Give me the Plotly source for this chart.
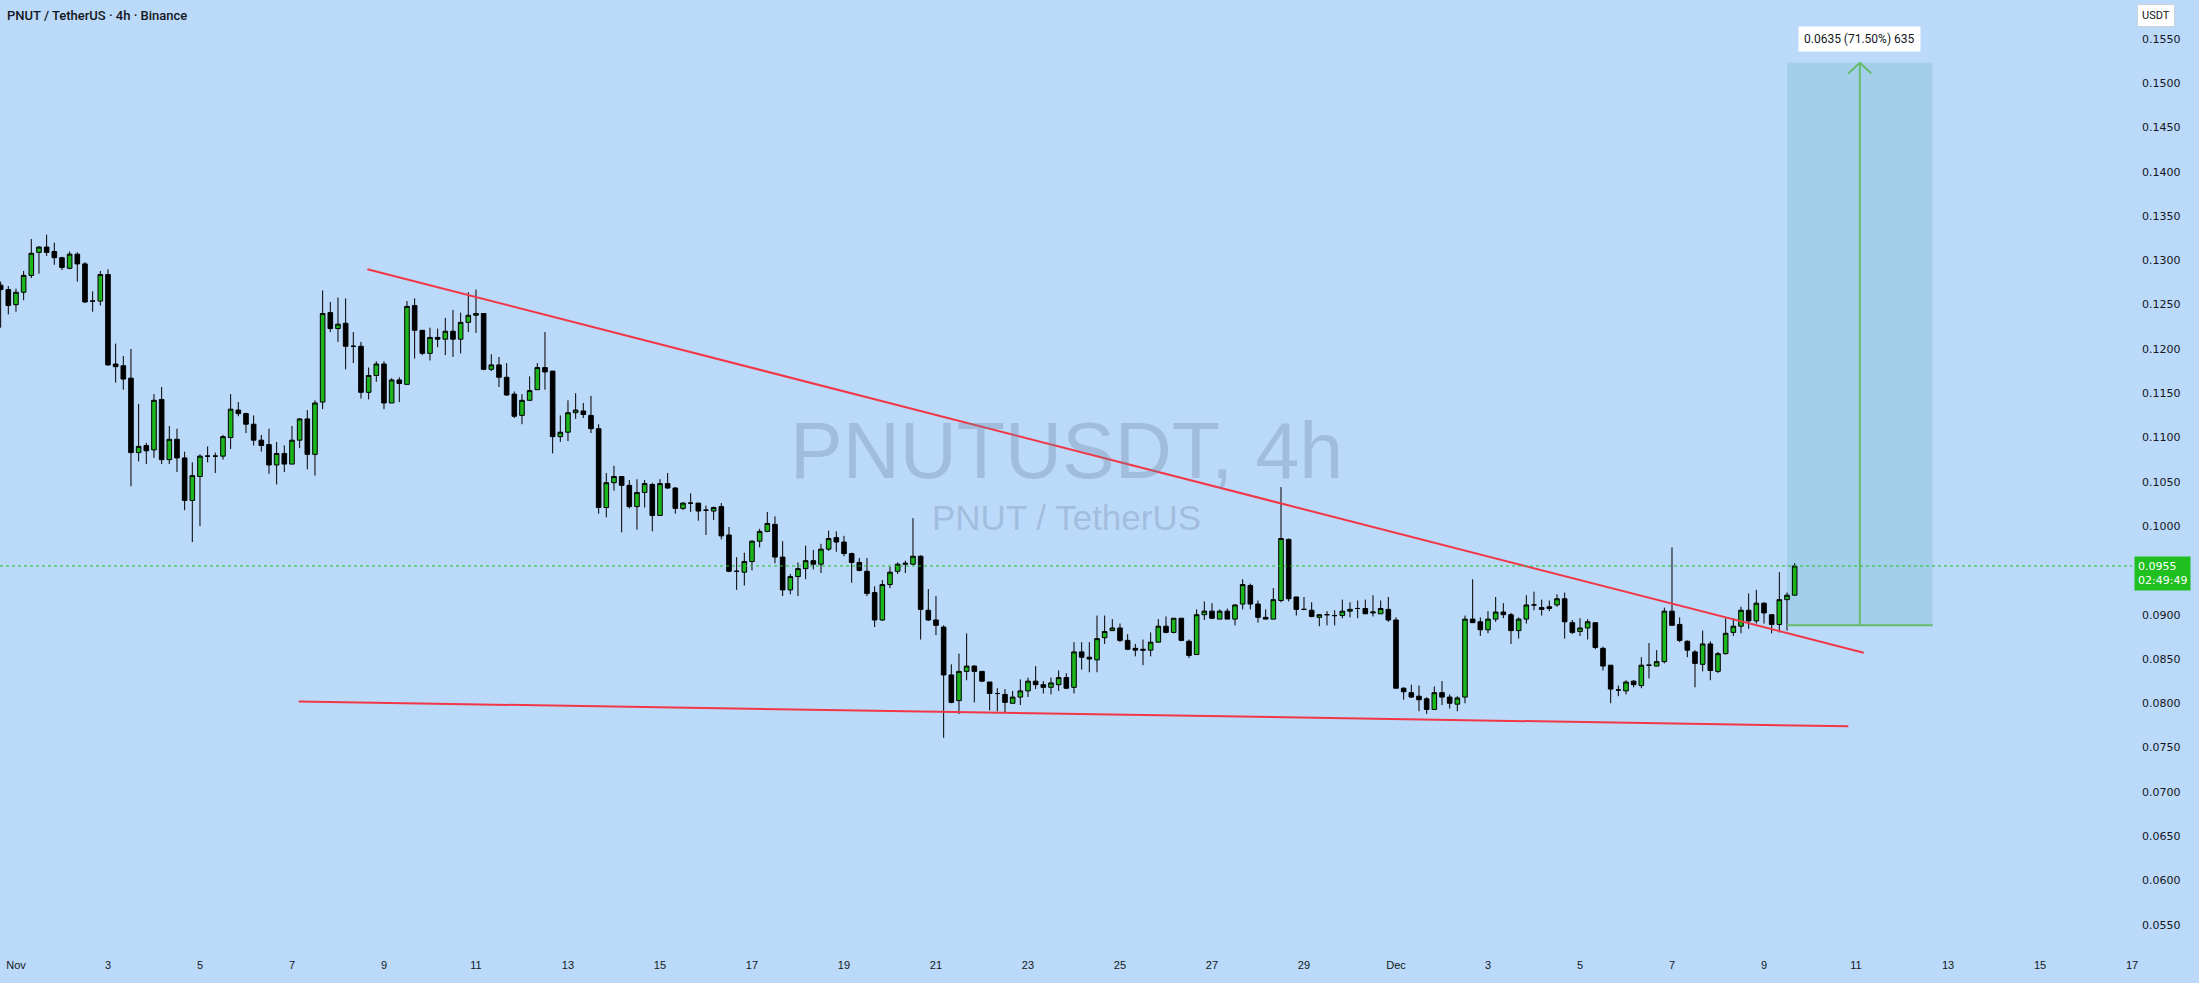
import pandas as pd
import plotly.graph_objects as go

# ---------------- data (4h candles, first candle Oct 31 16:00) ----------------
start_time = "2024-10-31 16:00"

open_ = [0.1272,0.1267,0.1250,0.1264,0.1283,0.1309,0.1315,0.1310,0.1303,0.1291,
 0.1307,0.1296,0.1254,0.1254,0.1284,0.1183,0.1181,0.1167,0.1083,0.1091,
 0.1086,0.1143,0.1075,0.1098,0.1077,0.1029,0.1056,0.1079,0.1079,0.1079,
 0.1100,0.1131,0.1127,0.1115,0.1097,0.1092,0.1069,0.1082,0.1070,0.1097,
 0.1121,0.1081,0.1140,0.1241,0.1223,0.1229,0.1203,0.1203,0.1151,0.1170,
 0.1183,0.1139,0.1165,0.1160,0.1249,0.1221,0.1195,0.1213,0.1211,0.1220,
 0.1211,0.1230,0.1238,0.1240,0.1177,0.1182,0.1168,0.1149,0.1125,0.1142,
 0.1154,0.1179,0.1175,0.1101,0.1106,0.1128,0.1130,0.1125,0.1110,0.1021,
 0.1049,0.1056,0.1046,0.1022,0.1038,0.1047,0.1012,0.1048,0.1043,0.1020,
 0.1026,0.1026,0.1018,0.1017,0.1022,0.0990,0.0949,0.0948,0.0960,0.0983,
 0.0994,0.1002,0.0965,0.0928,0.0943,0.0952,0.0961,0.0957,0.0974,0.0987,
 0.0982,0.0969,0.0959,0.0949,0.0925,0.0894,0.0934,0.0949,0.0957,0.0957,
 0.0966,0.0905,0.0894,0.0886,0.0832,0.0803,0.0836,0.0842,0.0836,0.0824,
 0.0811,0.0810,0.0800,0.0807,0.0814,0.0825,0.0821,0.0818,0.0821,0.0829,
 0.0818,0.0858,0.0852,0.0849,0.0874,0.0882,0.0885,0.0871,0.0862,0.0861,
 0.0860,0.0869,0.0887,0.0880,0.0896,0.0870,0.0855,0.0900,0.0904,0.0895,
 0.0904,0.0895,0.0912,0.0933,0.0912,0.0897,0.0895,0.0916,0.0985,0.0920,
 0.0906,0.0905,0.0897,0.0900,0.0899,0.0899,0.0904,0.0907,0.0907,0.0902,
 0.0901,0.0906,0.0894,0.0817,0.0812,0.0808,0.0805,0.0793,0.0812,0.0807,
 0.0799,0.0807,0.0895,0.0892,0.0883,0.0895,0.0903,0.0900,0.0882,0.0895,
 0.0911,0.0908,0.0907,0.0911,0.0918,0.0891,0.0881,0.0885,0.0891,0.0862,
 0.0843,0.0815,0.0814,0.0825,0.0820,0.0843,0.0842,0.0847,0.0904,0.0889,
 0.0870,0.0858,0.0844,0.0867,0.0836,0.0856,0.0880,0.0887,0.0905,0.0893,
 0.0913,0.0900,0.0889,0.0917,0.0922]

high = [0.1276,0.1271,0.1268,0.1288,0.1324,0.1316,0.1329,0.1320,0.1304,0.1310,
 0.1309,0.1298,0.1265,0.1288,0.1290,0.1206,0.1192,0.1200,0.1138,0.1094,
 0.1149,0.1157,0.1113,0.1110,0.1084,0.1072,0.1081,0.1090,0.1083,0.1103,
 0.1149,0.1140,0.1128,0.1125,0.1103,0.1110,0.1095,0.1091,0.1113,0.1122,
 0.1131,0.1142,0.1266,0.1253,0.1258,0.1257,0.1219,0.1208,0.1179,0.1186,
 0.1186,0.1167,0.1168,0.1254,0.1257,0.1221,0.1224,0.1223,0.1235,0.1244,
 0.1241,0.1264,0.1267,0.1240,0.1194,0.1191,0.1184,0.1152,0.1149,0.1169,
 0.1184,0.1219,0.1175,0.1125,0.1142,0.1150,0.1139,0.1147,0.1115,0.1060,
 0.1068,0.1056,0.1052,0.1053,0.1052,0.1049,0.1053,0.1060,0.1044,0.1027,
 0.1037,0.1026,0.1023,0.1022,0.1026,0.0999,0.0965,0.0970,0.0984,0.0997,
 0.1016,0.1011,0.0983,0.0946,0.0959,0.0978,0.0973,0.0980,0.0995,0.0994,
 0.0989,0.0970,0.0964,0.0964,0.0932,0.0939,0.0954,0.0959,0.0961,0.1009,
 0.0967,0.0929,0.0921,0.0888,0.0844,0.0856,0.0879,0.0843,0.0836,0.0824,
 0.0817,0.0816,0.0814,0.0827,0.0829,0.0842,0.0825,0.0829,0.0837,0.0834,
 0.0869,0.0869,0.0869,0.0899,0.0899,0.0895,0.0890,0.0878,0.0867,0.0872,
 0.0880,0.0895,0.0898,0.0896,0.0896,0.0872,0.0906,0.0915,0.0913,0.0906,
 0.0907,0.0912,0.0940,0.0935,0.0916,0.0906,0.0930,0.1044,0.0986,0.0920,
 0.0920,0.0914,0.0900,0.0904,0.0905,0.0917,0.0914,0.0916,0.0917,0.0922,
 0.0916,0.0920,0.0897,0.0818,0.0821,0.0820,0.0807,0.0819,0.0825,0.0810,
 0.0808,0.0899,0.0940,0.0897,0.0904,0.0920,0.0913,0.0902,0.0897,0.0922,
 0.0926,0.0917,0.0916,0.0923,0.0925,0.0894,0.0896,0.0895,0.0891,0.0864,
 0.0843,0.0820,0.0826,0.0826,0.0852,0.0868,0.0860,0.0908,0.0976,0.0897,
 0.0871,0.0860,0.0882,0.0870,0.0858,0.0896,0.0896,0.0909,0.0924,0.0928,
 0.0914,0.0900,0.0948,0.0925,0.0958]

low = [0.1224,0.1239,0.1242,0.1255,0.1280,0.1285,0.1305,0.1295,0.1289,0.1290,
 0.1276,0.1252,0.1242,0.1249,0.1181,0.1162,0.1154,0.1045,0.1073,0.1070,
 0.1077,0.1070,0.1070,0.1061,0.1018,0.0982,0.1000,0.1072,0.1060,0.1075,
 0.1087,0.1124,0.1105,0.1091,0.1084,0.1059,0.1047,0.1061,0.1070,0.1088,
 0.1064,0.1057,0.1132,0.1219,0.1208,0.1177,0.1184,0.1144,0.1143,0.1163,
 0.1132,0.1139,0.1140,0.1160,0.1189,0.1193,0.1187,0.1202,0.1193,0.1191,
 0.1195,0.1219,0.1218,0.1176,0.1175,0.1157,0.1147,0.1122,0.1115,0.1142,
 0.1154,0.1154,0.1082,0.1095,0.1096,0.1121,0.1122,0.1105,0.1014,0.1010,
 0.1040,0.0993,0.1020,0.0996,0.1021,0.0994,0.1012,0.1042,0.1014,0.1018,
 0.1016,0.1006,0.0990,0.1007,0.0985,0.0948,0.0928,0.0933,0.0950,0.0976,
 0.0993,0.0958,0.0921,0.0923,0.0921,0.0940,0.0951,0.0947,0.0972,0.0971,
 0.0966,0.0936,0.0949,0.0921,0.0886,0.0893,0.0930,0.0946,0.0947,0.0956,
 0.0872,0.0893,0.0877,0.0761,0.0800,0.0788,0.0826,0.0801,0.0824,0.0792,
 0.0791,0.0789,0.0800,0.0798,0.0807,0.0816,0.0811,0.0810,0.0814,0.0816,
 0.0811,0.0838,0.0835,0.0835,0.0867,0.0882,0.0869,0.0860,0.0853,0.0843,
 0.0853,0.0869,0.0879,0.0879,0.0870,0.0851,0.0855,0.0894,0.0895,0.0895,
 0.0895,0.0888,0.0906,0.0906,0.0891,0.0895,0.0895,0.0914,0.0915,0.0899,
 0.0905,0.0897,0.0887,0.0888,0.0888,0.0896,0.0897,0.0896,0.0901,0.0898,
 0.0901,0.0892,0.0817,0.0804,0.0806,0.0791,0.0788,0.0793,0.0798,0.0794,
 0.0791,0.0800,0.0891,0.0876,0.0879,0.0892,0.0896,0.0867,0.0873,0.0890,
 0.0905,0.0899,0.0904,0.0909,0.0873,0.0878,0.0876,0.0872,0.0861,0.0837,
 0.0800,0.0808,0.0810,0.0818,0.0817,0.0828,0.0842,0.0845,0.0888,0.0869,
 0.0852,0.0818,0.0836,0.0826,0.0834,0.0855,0.0876,0.0879,0.0884,0.0890,
 0.0890,0.0879,0.0880,0.0882,0.0922]

close = [0.1267,0.1249,0.1264,0.1283,0.1308,0.1315,0.1309,0.1303,0.1292,0.1307,
 0.1296,0.1253,0.1254,0.1284,0.1182,0.1180,0.1166,0.1083,0.1090,0.1085,
 0.1142,0.1075,0.1098,0.1077,0.1029,0.1057,0.1079,0.1079,0.1079,0.1101,
 0.1132,0.1127,0.1115,0.1097,0.1091,0.1069,0.1082,0.1070,0.1097,0.1121,
 0.1081,0.1139,0.1240,0.1223,0.1228,0.1203,0.1203,0.1151,0.1170,0.1183,
 0.1139,0.1165,0.1161,0.1248,0.1221,0.1195,0.1213,0.1211,0.1220,0.1211,
 0.1230,0.1238,0.1240,0.1177,0.1182,0.1168,0.1148,0.1124,0.1142,0.1153,
 0.1179,0.1174,0.1101,0.1106,0.1128,0.1131,0.1126,0.1110,0.1021,0.1049,
 0.1056,0.1046,0.1022,0.1038,0.1048,0.1012,0.1048,0.1043,0.1020,0.1026,
 0.1026,0.1017,0.1018,0.1021,0.0989,0.0949,0.0949,0.0960,0.0983,0.0994,
 0.1003,0.0965,0.0928,0.0943,0.0952,0.0961,0.0957,0.0974,0.0986,0.0982,
 0.0969,0.0959,0.0950,0.0924,0.0894,0.0934,0.0948,0.0957,0.0958,0.0966,
 0.0906,0.0894,0.0888,0.0832,0.0801,0.0836,0.0842,0.0836,0.0825,0.0811,
 0.0811,0.0801,0.0807,0.0814,0.0825,0.0821,0.0818,0.0823,0.0829,0.0817,
 0.0858,0.0852,0.0850,0.0873,0.0881,0.0885,0.0871,0.0861,0.0860,0.0860,
 0.0869,0.0887,0.0880,0.0896,0.0871,0.0854,0.0900,0.0904,0.0896,0.0904,
 0.0895,0.0911,0.0934,0.0912,0.0897,0.0895,0.0917,0.0986,0.0918,0.0906,
 0.0906,0.0898,0.0900,0.0900,0.0899,0.0904,0.0906,0.0907,0.0901,0.0903,
 0.0907,0.0894,0.0817,0.0813,0.0807,0.0804,0.0793,0.0812,0.0807,0.0800,
 0.0806,0.0895,0.0891,0.0883,0.0895,0.0903,0.0900,0.0882,0.0895,0.0911,
 0.0911,0.0906,0.0909,0.0918,0.0892,0.0880,0.0885,0.0892,0.0863,0.0842,
 0.0816,0.0815,0.0824,0.0821,0.0843,0.0843,0.0847,0.0904,0.0888,0.0871,
 0.0860,0.0845,0.0867,0.0837,0.0856,0.0879,0.0887,0.0905,0.0893,0.0913,
 0.0902,0.0889,0.0917,0.0922,0.0955]

# trend lines (falling wedge)
upper_t = ["2024-11-08 15:20", "2024-12-11 04:00"]
upper_p = [0.1290, 0.0857]
lower_t = ["2024-11-07 03:30", "2024-12-10 20:00"]
lower_p = [0.0802, 0.0774]

# long-position target box
target_start = "2024-12-09 12:00"
target_end = "2024-12-12 16:00"
target_entry = 0.0888
target_price = 0.1523
target_label = "0.0635 (71.50%) 635"

last_price_text = "0.0955"
countdown_text = "02:49:49"

ytick_vals = [0.155, 0.150, 0.145, 0.140, 0.135, 0.130, 0.125, 0.120, 0.115, 0.110,
              0.105, 0.100, 0.090, 0.085, 0.080, 0.075, 0.070, 0.065, 0.060, 0.055]
ytick_text = ["0.1550", "0.1500", "0.1450", "0.1400", "0.1350", "0.1300", "0.1250", "0.1200",
              "0.1150", "0.1100", "0.1050", "0.1000", "0.0900", "0.0850", "0.0800", "0.0750",
              "0.0700", "0.0650", "0.0600", "0.0550"]

xtick_vals = ["2024-11-01", "2024-11-03", "2024-11-05", "2024-11-07", "2024-11-09", "2024-11-11",
              "2024-11-13", "2024-11-15", "2024-11-17", "2024-11-19", "2024-11-21", "2024-11-23",
              "2024-11-25", "2024-11-27", "2024-11-29", "2024-12-01", "2024-12-03", "2024-12-05",
              "2024-12-07", "2024-12-09", "2024-12-11", "2024-12-13", "2024-12-15", "2024-12-17"]
xtick_text = ["Nov", "3", "5", "7", "9", "11", "13", "15", "17", "19", "21", "23",
              "25", "27", "29", "Dec", "3", "5", "7", "9", "11", "13", "15", "17"]

x_range = ["2024-10-31 15:40", "2024-12-17 00:00"]
y_range = [0.05181, 0.15939]

# ---------------- figure ----------------
BG = "#bbd9f9"
GREEN = "#1cb51c"
RED = "#f23645"
TGREEN = "#66bb6a"

times = pd.date_range(start_time, periods=len(close), freq="4h")
t_start = pd.Timestamp(target_start)
t_end = pd.Timestamp(target_end)
t_mid = t_start + (t_end - t_start) / 2

fig = go.Figure()

# target box (below candles)
fig.add_shape(type="rect", x0=t_start, x1=t_end, y0=target_entry, y1=target_price,
              fillcolor="#a3cfea", line=dict(width=0), layer="below")

fig.add_trace(go.Candlestick(
    x=times, open=open_, high=high, low=low, close=close,
    increasing=dict(fillcolor=GREEN, line=dict(color="black", width=1)),
    decreasing=dict(fillcolor="black", line=dict(color="black", width=1)),
    whiskerwidth=0, showlegend=False, hoverinfo="skip"))

# wedge lines
fig.add_trace(go.Scatter(x=upper_t, y=upper_p, mode="lines",
                         line=dict(color=RED, width=2), showlegend=False, hoverinfo="skip"))
fig.add_trace(go.Scatter(x=lower_t, y=lower_p, mode="lines",
                         line=dict(color=RED, width=2), showlegend=False, hoverinfo="skip"))

# target lines + arrow
fig.add_trace(go.Scatter(x=[t_start, t_end], y=[target_entry, target_entry], mode="lines",
                         line=dict(color=TGREEN, width=2), showlegend=False, hoverinfo="skip"))
fig.add_trace(go.Scatter(x=[t_mid, t_mid], y=[target_entry, target_price], mode="lines",
                         line=dict(color=TGREEN, width=2), showlegend=False, hoverinfo="skip"))
head_dx = pd.Timedelta(hours=6)
head_dy = 0.0012
fig.add_trace(go.Scatter(x=[t_mid - head_dx, t_mid, t_mid + head_dx],
                         y=[target_price - head_dy, target_price, target_price - head_dy],
                         mode="lines", line=dict(color=TGREEN, width=2),
                         showlegend=False, hoverinfo="skip"))

# last price dotted line
fig.add_shape(type="line", xref="paper", x0=0, x1=1, y0=close[-1], y1=close[-1],
              line=dict(color="#1fbf1f", width=1, dash="dot"), layer="above")

annotations = [
    dict(text="PNUT / TetherUS · 4h · Binance", xref="paper", yref="paper", x=0, y=1,
         xanchor="left", yanchor="top", xshift=5, yshift=-6, showarrow=False,
         font=dict(family="Roboto", size=13, color="#131722", weight=500)),
    dict(text="PNUTUSDT, 4h", xref="paper", yref="paper", x=0.5, y=1 - 451 / 953,
         xanchor="center", yanchor="middle", showarrow=False,
         font=dict(family="Liberation Sans", size=79, color="rgba(110,130,160,0.32)")),
    dict(text="PNUT / TetherUS", xref="paper", yref="paper", x=0.5, y=1 - 517 / 953,
         xanchor="center", yanchor="middle", showarrow=False,
         font=dict(family="Liberation Sans", size=35, color="rgba(110,130,160,0.32)")),
    dict(text=target_label, x=t_mid, y=target_price, xanchor="center", yanchor="bottom",
         yshift=11, showarrow=False, bgcolor="white", borderpad=5,
         font=dict(family="Roboto", size=12, color="#131722")),
    dict(text="USDT", xref="paper", yref="paper", x=1, y=1, xanchor="left", yanchor="top",
         xshift=5, yshift=-4, showarrow=False, bgcolor="white", bordercolor="#c8d3de",
         borderwidth=1, borderpad=4, font=dict(family="Roboto", size=11, color="#131722")),
    dict(text=last_price_text + "<br>" + countdown_text, xref="paper", yref="y", x=1, y=close[-1],
         xanchor="left", yanchor="top", xshift=2, yshift=10, showarrow=False, align="left",
         bgcolor="#1fbf1f", borderpad=3,
         font=dict(family="DejaVu Sans", size=11, color="white")),
]

fig.update_layout(
    width=2199, height=983, autosize=False,
    margin=dict(l=0, r=67, t=0, b=30),
    paper_bgcolor=BG, plot_bgcolor=BG,
    boxgap=0.2, boxgroupgap=0.25,
    showlegend=False,
    annotations=annotations,
    xaxis=dict(type="date", range=x_range, rangeslider=dict(visible=False),
               showgrid=False, zeroline=False, showline=False, ticks="",
               tickmode="array", tickvals=xtick_vals, ticktext=xtick_text,
               tickfont=dict(family="Liberation Sans", size=11, color="#131722"),
               ticklabelstandoff=4),
    yaxis=dict(side="right", range=y_range, showgrid=False, zeroline=False, showline=False,
               ticks="", tickmode="array", tickvals=ytick_vals, ticktext=ytick_text,
               tickfont=dict(family="DejaVu Sans", size=11, color="#131722"),
               ticklabelstandoff=9),
)

fig.write_html("out.html", config={"displayModeBar": False},
               post_script="document.body.style.margin='0';document.body.style.overflow='hidden';")
